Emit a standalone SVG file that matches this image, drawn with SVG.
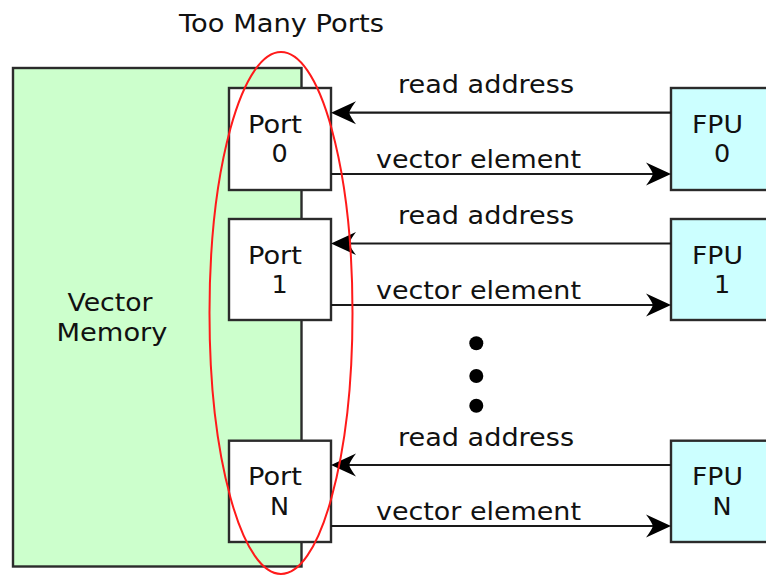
<svg xmlns="http://www.w3.org/2000/svg" width="766" height="576" viewBox="0 0 766 576">
  <style>
    .box { stroke: #2b2b2b; stroke-width: 2.4; }
    .mem { fill: #ccffcc; }
    .port { fill: #ffffff; }
    .fpu { fill: #ccffff; }
    .wire { stroke: #1a1a1a; stroke-width: 2.2; fill: none; }
    text { font-family: "DejaVu Sans", "Liberation Sans", sans-serif; font-size: 25.5px; fill: #111; text-anchor: middle; }
    .dot { fill: #000; }
  </style>
  <defs>
    <marker id="head" markerUnits="userSpaceOnUse" markerWidth="40" markerHeight="30" refX="0" refY="0" viewBox="-10 -15 40 30" orient="auto" overflow="visible">
      <path d="M18,0 L-7,-11.5 Q-2,-5 0,0 Q-2,5 -7,11.5 Z" fill="#000"/>
    </marker>
  </defs>

  <rect width="766" height="576" fill="#ffffff"/>

  <text x="281.5" y="31.7" textLength="205" lengthAdjust="spacingAndGlyphs">Too Many Ports</text>

  <g id="vector-memory">
    <rect class="box mem" x="13" y="68" width="288.5" height="498.5"/>
    <text x="110" y="311" textLength="85" lengthAdjust="spacingAndGlyphs">Vector</text>
    <text x="112" y="341" textLength="111" lengthAdjust="spacingAndGlyphs">Memory</text>
  </g>

  <g id="port-0">
    <rect class="box port" x="229" y="88" width="102" height="102"/>
    <text x="275" y="132.7" textLength="54" lengthAdjust="spacingAndGlyphs">Port</text>
    <text x="279.5" y="161.7">0</text>
  </g>
  <g id="port-1">
    <rect class="box port" x="229" y="219" width="102" height="101"/>
    <text x="275" y="263.5" textLength="54" lengthAdjust="spacingAndGlyphs">Port</text>
    <text x="279.5" y="292.7">1</text>
  </g>
  <g id="port-n">
    <rect class="box port" x="229" y="440.7" width="102" height="101.3"/>
    <text x="275" y="485.3" textLength="54" lengthAdjust="spacingAndGlyphs">Port</text>
    <text x="279.5" y="514.6">N</text>
  </g>

  <g id="fpu-0">
    <rect class="box fpu" x="671" y="88" width="120" height="102"/>
    <text x="717.5" y="132.7" textLength="51" lengthAdjust="spacingAndGlyphs">FPU</text>
    <text x="722" y="161.5">0</text>
  </g>
  <g id="fpu-1">
    <rect class="box fpu" x="671" y="219" width="120" height="101"/>
    <text x="717.5" y="263.5" textLength="51" lengthAdjust="spacingAndGlyphs">FPU</text>
    <text x="722" y="292.5">1</text>
  </g>
  <g id="fpu-n">
    <rect class="box fpu" x="671" y="440.7" width="120" height="101.3"/>
    <text x="717.5" y="485.3" textLength="51" lengthAdjust="spacingAndGlyphs">FPU</text>
    <text x="722" y="514.6">N</text>
  </g>

  <g id="connectors">
    <line class="wire" x1="671" y1="112.7" x2="349" y2="112.7" marker-end="url(#head)"/>
    <line class="wire" x1="331" y1="174" x2="653" y2="174" marker-end="url(#head)"/>
    <line class="wire" x1="671" y1="243.5" x2="349" y2="243.5" marker-end="url(#head)"/>
    <line class="wire" x1="331" y1="305" x2="653" y2="305" marker-end="url(#head)"/>
    <line class="wire" x1="671" y1="465" x2="349" y2="465" marker-end="url(#head)"/>
    <line class="wire" x1="331" y1="526" x2="653" y2="526" marker-end="url(#head)"/>

    <text x="486" y="93.3" textLength="176" lengthAdjust="spacingAndGlyphs">read address</text>
    <text x="478.5" y="168.3" textLength="205" lengthAdjust="spacingAndGlyphs">vector element</text>
    <text x="486" y="224.2" textLength="176" lengthAdjust="spacingAndGlyphs">read address</text>
    <text x="478.5" y="299.3" textLength="205" lengthAdjust="spacingAndGlyphs">vector element</text>
    <text x="486" y="446" textLength="176" lengthAdjust="spacingAndGlyphs">read address</text>
    <text x="478.5" y="520" textLength="205" lengthAdjust="spacingAndGlyphs">vector element</text>
  </g>

  <g id="ellipsis">
    <circle class="dot" cx="476.3" cy="343.3" r="7"/>
    <circle class="dot" cx="476.3" cy="376" r="7"/>
    <circle class="dot" cx="476.3" cy="405.7" r="7"/>
  </g>

  <ellipse id="port-highlight" cx="281" cy="313" rx="71.5" ry="261" fill="none" stroke="#ff1a1a" stroke-width="2"/>
</svg>
